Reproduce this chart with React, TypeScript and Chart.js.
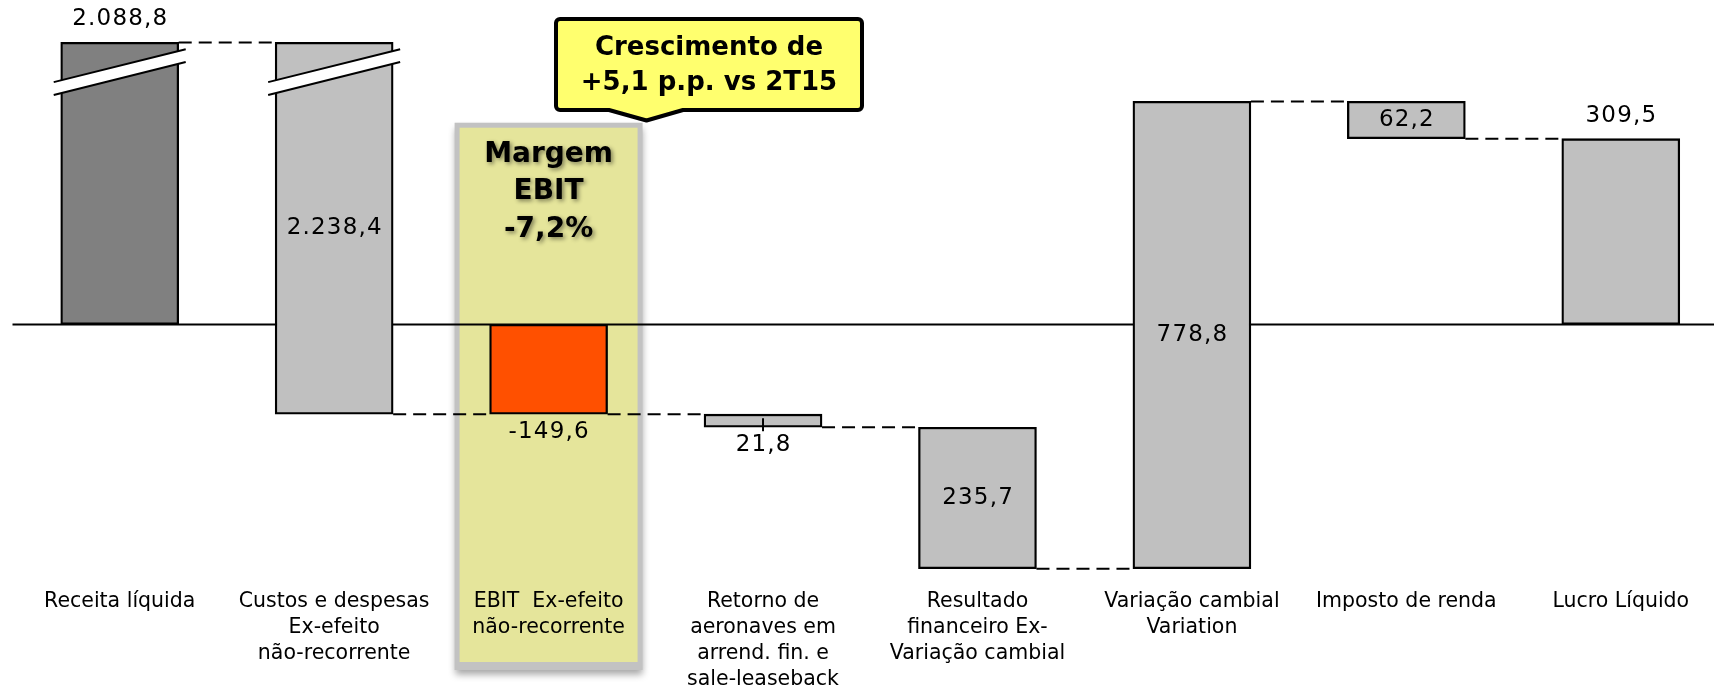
import React, { useEffect, useRef } from 'react';
import { Chart, registerables } from 'chart.js';

Chart.register(...registerables);

// ---------- data ----------
const categories: string[][] = [
  ['Receita líquida'],
  ['Custos e despesas', 'Ex-efeito', 'não-recorrente'],
  ['EBIT  Ex-efeito', 'não-recorrente'],
  ['Retorno de', 'aeronaves em', 'arrend. fin. e', 'sale-leaseback'],
  ['Resultado', 'financeiro Ex-', 'Variação cambial'],
  ['Variação cambial', 'Variation'],
  ['Imposto de renda'],
  ['Lucro Líquido'],
];
const stepValues = [2088.8, -2238.4, -149.6, -21.8, -235.7, 778.8, -62.2, 309.5];
const stepKinds = ['total', 'delta', 'total', 'delta', 'delta', 'delta', 'delta', 'total'];
const barColors = ['#808080', '#c0c0c0', '#ff5000', '#c0c0c0', '#c0c0c0', '#c0c0c0', '#c0c0c0', '#c0c0c0'];
const labelPlacement = ['above', 'center', 'below', 'below', 'center', 'center', 'center', 'above'];
const brokenBars = [0, 1];
const BREAK_VALUE = 470; // bars taller than this are drawn broken
const BREAK_MARK_VALUE = 420.5;
const Y_MIN = -426;
const Y_MAX = 534;
const highlightIndex = 2;
const marginText = ['Margem', 'EBIT', '-7,2%'];
const calloutText = ['Crescimento de', '+5,1 p.p. vs 2T15'];

const FONT = '"DejaVu Sans", sans-serif';

function fmt(v: number, signed: boolean): string {
  const s = Math.abs(v).toFixed(1);
  const [i, d] = s.split('.');
  const ii = i.replace(/\B(?=(\d{3})+(?!\d))/g, '.');
  return (signed && v < 0 ? '-' : '') + ii + ',' + d;
}

// running totals -> floating ranges
const ranges: [number, number][] = [];
const levels: number[] = [];
{
  let run = 0;
  stepValues.forEach((v, i) => {
    let lo: number, hi: number;
    if (stepKinds[i] === 'total') {
      lo = 0; hi = v; run = v;
    } else {
      lo = run; hi = run + v; run = run + v;
    }
    ranges.push([Math.min(lo, BREAK_VALUE), Math.min(hi, BREAK_VALUE)]);
    levels.push(Math.min(run, BREAK_VALUE));
  });
}
const valueLabels = stepValues.map((v, i) => fmt(v, stepKinds[i] === 'total'));

const decorPlugin = {
  id: 'waterfallDecor',
  beforeDraw(chart: any) {
    const { ctx, scales } = chart;
    const x = scales.x;
    // highlight box (behind axis labels)
    const cx = x.getPixelForValue(highlightIndex);
    const left = cx - 94, right = cx + 94, top = 122.7, bottom = 670;
    ctx.save();
    ctx.shadowColor = 'rgba(0,0,0,0.35)';
    ctx.shadowBlur = 7;
    ctx.shadowOffsetY = 5;
    ctx.fillStyle = '#c2c2c2';
    ctx.fillRect(left, top, right - left, bottom - top);
    ctx.restore();
    ctx.save();
    ctx.fillStyle = '#e5e59b';
    ctx.fillRect(left + 5, top + 5, right - left - 10, bottom - top - 13);
    ctx.restore();
  },
  beforeDatasetsDraw(chart: any) {
    const { ctx, chartArea, scales } = chart;
    const y = scales.y;
    const zy = y.getPixelForValue(0);
    ctx.save();
    ctx.strokeStyle = '#000';
    ctx.lineWidth = 2;
    ctx.beginPath();
    ctx.moveTo(chartArea.left, zy);
    ctx.lineTo(chartArea.right, zy);
    ctx.stroke();
    ctx.restore();
  },
  afterDatasetsDraw(chart: any) {
    const { ctx, scales } = chart;
    const y = scales.y;
    const meta = chart.getDatasetMeta(0);
    const bars = meta.data;
    ctx.save();
    // connectors
    ctx.strokeStyle = '#000';
    ctx.lineWidth = 2;
    ctx.setLineDash([13, 7]);
    for (let i = 0; i < bars.length - 1; i++) {
      const a = bars[i];
      const b = bars[i + 1];
      const ly = y.getPixelForValue(levels[i]);
      ctx.beginPath();
      ctx.moveTo(a.x + a.width / 2, ly);
      ctx.lineTo(b.x - b.width / 2, ly);
      ctx.stroke();
    }
    ctx.setLineDash([]);
    // break marks
    brokenBars.forEach((bi) => {
      const b = bars[bi];
      const half = b.width / 2 + 7;
      const yc = y.getPixelForValue(BREAK_MARK_VALUE);
      const slope = -0.249;
      const g = 6.4;
      const x1 = b.x - half, x2 = b.x + half;
      const yAt = (xx: number, off: number) => yc + off + slope * (xx - b.x);
      ctx.fillStyle = '#fff';
      ctx.beginPath();
      ctx.moveTo(x1, yAt(x1, -g));
      ctx.lineTo(x2, yAt(x2, -g));
      ctx.lineTo(x2, yAt(x2, g));
      ctx.lineTo(x1, yAt(x1, g));
      ctx.closePath();
      ctx.fill();
      ctx.lineWidth = 2;
      ctx.beginPath();
      ctx.moveTo(x1, yAt(x1, -g));
      ctx.lineTo(x2, yAt(x2, -g));
      ctx.moveTo(x1, yAt(x1, g));
      ctx.lineTo(x2, yAt(x2, g));
      ctx.stroke();
    });
    // small tick on the Retorno bar
    {
      const b = bars[3];
      const by = Math.max(b.y, b.base);
      ctx.lineWidth = 2;
      ctx.beginPath();
      ctx.moveTo(b.x, by - 9);
      ctx.lineTo(b.x, by + 4);
      ctx.stroke();
    }
    // value labels
    ctx.fillStyle = '#000';
    ctx.font = `23px ${FONT}`;
    (ctx as any).letterSpacing = '1.2px';
    ctx.textAlign = 'center';
    ctx.textBaseline = 'middle';
    bars.forEach((b: any, i: number) => {
      const top = Math.min(b.y, b.base);
      const bottom = Math.max(b.y, b.base);
      let ty = (top + bottom) / 2;
      if (labelPlacement[i] === 'above') ty = top - 23;
      if (labelPlacement[i] === 'below') ty = bottom + 18;
      ctx.fillText(valueLabels[i], b.x + 0.6, ty);
    });
    (ctx as any).letterSpacing = '0px';
    // margin text in highlight box
    const hb = bars[highlightIndex];
    ctx.save();
    ctx.font = `bold 28px ${FONT}`;
    ctx.shadowColor = 'rgba(0,0,0,0.45)';
    ctx.shadowBlur = 4;
    ctx.shadowOffsetX = 2;
    ctx.shadowOffsetY = 2;
    const mys = [155, 192, 230];
    marginText.forEach((t, i) => ctx.fillText(t, hb.x, mys[i]));
    ctx.restore();
    // callout
    {
      const l = 556, r = 862, t = 19, bt = 110, rad = 4;
      ctx.beginPath();
      ctx.moveTo(l + rad, t);
      ctx.lineTo(r - rad, t);
      ctx.arcTo(r, t, r, t + rad, rad);
      ctx.lineTo(r, bt - rad);
      ctx.arcTo(r, bt, r - rad, bt, rad);
      ctx.lineTo(683, bt);
      ctx.lineTo(646.5, 120.5);
      ctx.lineTo(609, bt);
      ctx.lineTo(l + rad, bt);
      ctx.arcTo(l, bt, l, bt - rad, rad);
      ctx.lineTo(l, t + rad);
      ctx.arcTo(l, t, l + rad, t, rad);
      ctx.closePath();
      ctx.fillStyle = '#ffff6e';
      ctx.fill();
      ctx.lineWidth = 4;
      ctx.lineJoin = 'round';
      ctx.strokeStyle = '#000';
      ctx.stroke();
      ctx.fillStyle = '#000';
      ctx.font = `bold 26px ${FONT}`;
      ctx.fillText(calloutText[0], 709, 48);
      ctx.fillText(calloutText[1], 709, 83);
    }
    ctx.restore();
  },
};

export default function App() {
  const ref = useRef<HTMLCanvasElement | null>(null);
  useEffect(() => {
    if (!ref.current) return;
    const chart = new Chart(ref.current, {
      type: 'bar',
      data: {
        labels: categories,
        datasets: [
          {
            data: ranges as any,
            backgroundColor: barColors,
            borderColor: '#000',
            borderWidth: 2.3,
            borderSkipped: false,
            barThickness: 118,
          },
        ],
      },
      options: {
        responsive: false,
        animation: false,
        devicePixelRatio: 1,
        layout: { padding: { left: 12.5, right: 0, top: 4, bottom: 0 } },
        plugins: { legend: { display: false }, tooltip: { enabled: false } },
        scales: {
          x: {
            type: 'category',
            offset: true,
            grid: { display: false, drawTicks: false },
            border: { display: false },
            ticks: {
              color: '#000',
              font: { family: FONT, size: 20.5, lineHeight: '26px' as any },
              padding: 8.5,
              maxRotation: 0,
              minRotation: 0,
              autoSkip: false,
            },
            afterFit: (s: any) => {
              s.height = 109;
            },
          },
          y: {
            display: false,
            min: Y_MIN,
            max: Y_MAX,
          },
        },
      },
      plugins: [decorPlugin],
    });
    return () => chart.destroy();
  }, []);
  return (
    <div style={{ position: 'fixed', left: 0, top: 0, width: 1714, height: 689, overflow: 'hidden', background: '#fff' }}>
      <canvas ref={ref} width={1728} height={689} style={{ display: 'block', width: 1728, height: 689 }} />
    </div>
  );
}
